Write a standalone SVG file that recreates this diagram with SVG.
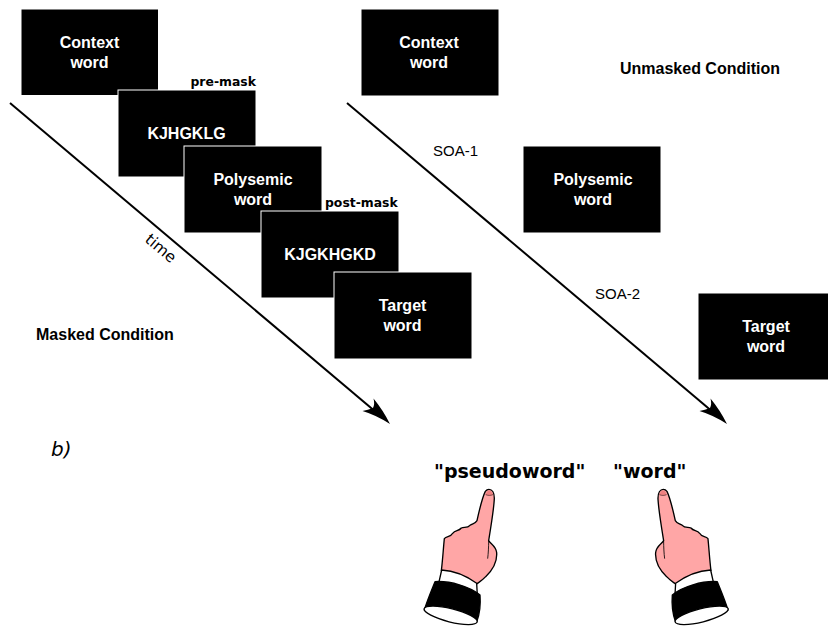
<svg xmlns="http://www.w3.org/2000/svg" xmlns:xlink="http://www.w3.org/1999/xlink" width="828" height="627" viewBox="0 0 828 627">
<style>
.box{fill:#000;stroke:#fff;stroke-width:1}
.w{font:bold 16px "Liberation Sans",Arial,sans-serif;fill:#fff;text-anchor:middle}
.k{font:bold 16px "Liberation Sans",Arial,sans-serif;fill:#000}
.m{font:bold 12.400px "DejaVu Sans",sans-serif;fill:#000}
.s{font:15px "Liberation Sans",Arial,sans-serif;fill:#000}
.q{font:bold 19px "DejaVu Sans",sans-serif;fill:#000}
.ln{stroke:#000;stroke-width:2;fill:none}
.hl{stroke:#000;stroke-width:4;stroke-linejoin:round;stroke-linecap:round}
</style>
<defs>
<g id="hand">
<path class="hl" fill="#ffa6a6" d="M207 118C216 118 223 128 223 145C222 175 212 235 206 272C212 282 228 288 230 308C232 335 218 360 197 380C188 390 178 396 170 402L64 362C68 330 70 295 73 266C80 258 92 262 98 250C106 240 116 244 124 234C132 230 142 236 150 226C158 220 165 222 171 212C178 180 188 140 196 124C199 120 203 118 207 118Z"/>
<path fill="#f08080" d="M197 134C200 120 212 114 219 134C212 137 204 137 197 134Z"/>
<path fill="none" stroke="#000" stroke-width="1.500" d="M197 134C204 137 212 137 219 134"/>
<path fill="none" stroke="#000" stroke-width="2.500" d="M206 272C206 290 205 310 203 326"/>
<path class="hl" fill="#fff" d="M65 360C100 362 140 378 170 400L172 436L56 400Z"/>
<path class="hl" fill="#000" d="M45 395C90 392 150 410 180 435C182 460 180 490 170 516L13 480C22 450 35 420 45 395Z"/>
<ellipse class="hl" fill="#fff" cx="92" cy="496" rx="82" ry="20" transform="rotate(14 92 496)"/>
</g>
<path id="head" d="M390 424Q383 410 373.500 398.500Q375 404 373 408Q368 410 362.500 411Q376 415 390 424Z" fill="#000"/>
</defs>
<rect width="828" height="627" fill="#fff"/>
<g id="connectors">
<line class="ln" x1="10" y1="103" x2="380" y2="415.500"/>
<line class="ln" x1="347" y1="103" x2="717" y2="415.500"/>
<use xlink:href="#head" href="#head"/>
<use xlink:href="#head" href="#head" x="337"/>
</g>
<g id="node-context-1"><rect class="box" x="21" y="9" width="137.500" height="86.500"/><text class="w" x="89.500" y="48">Context</text><text class="w" x="89.500" y="68">word</text></g>
<g id="node-premask"><rect class="box" x="118" y="90" width="138" height="87"/><text class="w" x="186.500" y="139">KJHGKLG</text><text class="m" x="190.500" y="86">pre-mask</text></g>
<g id="node-polysemic-1"><rect class="box" x="184" y="146" width="138" height="87"/><text class="w" x="253" y="185">Polysemic</text><text class="w" x="253" y="205">word</text></g>
<g id="node-postmask"><rect class="box" x="261" y="211" width="138" height="87"/><text class="w" x="330" y="260">KJGKHGKD</text><text class="m" x="325" y="207">post-mask</text></g>
<g id="node-target-1"><rect class="box" x="334" y="272" width="138" height="87"/><text class="w" x="402.500" y="311">Target</text><text class="w" x="402.500" y="331">word</text></g>
<g id="node-context-2"><rect class="box" x="361" y="9" width="138" height="87"/><text class="w" x="429" y="48">Context</text><text class="w" x="429" y="68">word</text></g>
<g id="node-polysemic-2"><rect class="box" x="523" y="146" width="138" height="87"/><text class="w" x="593" y="185">Polysemic</text><text class="w" x="593" y="205">word</text></g>
<g id="node-target-2"><rect class="box" x="698" y="293" width="131" height="87"/><text class="w" x="766" y="332">Target</text><text class="w" x="766" y="352">word</text></g>
<g id="labels">
<text class="k" x="620" y="74">Unmasked Condition</text>
<text class="k" x="36" y="340">Masked Condition</text>
<text class="s" x="433" y="156">SOA-1</text>
<text class="s" x="595" y="299">SOA-2</text>
<text x="144" y="241" transform="rotate(40 144 241)" style="font:15.500px 'DejaVu Sans',sans-serif">time</text>
<text x="51" y="456" style="font:italic 20px 'DejaVu Sans',sans-serif">b)</text>
<text class="q" x="434" y="478">"pseudoword"</text>
<text class="q" x="613" y="478">"word"</text>
</g>
<g id="hand-left"><use xlink:href="#hand" href="#hand" transform="translate(420 450) scale(.3333)"/></g>
<g id="hand-right"><use xlink:href="#hand" href="#hand" transform="translate(732.300 450) scale(-.3333 .3333)"/></g>
</svg>
